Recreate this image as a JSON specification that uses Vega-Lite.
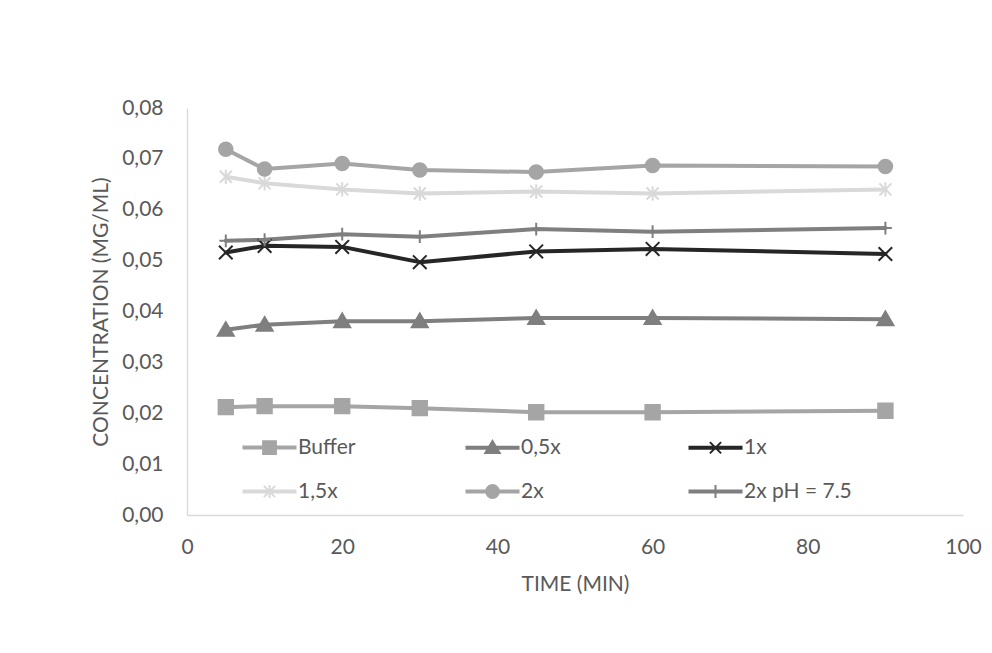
{
  "$schema": "https://vega.github.io/schema/vega-lite/v6.json",
  "width": 776,
  "height": 407,
  "autosize": {"type": "none"},
  "padding": {"left": 187, "top": 108, "right": 29, "bottom": 138},
  "background": "white",
  "config": {
    "view": {"stroke": null},
    "font": "Lato",
    "axis": {
      "domainColor": "#d9d9d9",
      "domainWidth": 1.3,
      "ticks": false,
      "grid": false,
      "labelColor": "#595959",
      "labelFont": "Lato",
      "labelFontSize": 21,
      "titleColor": "#595959",
      "titleFont": "Lato",
      "titleFontSize": 21,
      "titleFontWeight": "normal"
    },
    "legend": {
      "labelColor": "#595959",
      "labelFont": "Lato",
      "labelFontSize": 21,
      "orient": "none",
      "direction": "horizontal",
      "columns": 3,
      "gridAlign": "all",
      "columnPadding": 56,
      "rowPadding": 22,
      "symbolSize": 256,
      "symbolStrokeWidth": 2,
      "labelOffset": 18,
      "padding": 0,
      "title": null,
      "legendX": 72,
      "legendY": 329
    }
  },
  "data": {
    "values": [
      {"series": "Buffer", "time": 5, "conc": 0.0212},
      {"series": "Buffer", "time": 10, "conc": 0.0214},
      {"series": "Buffer", "time": 20, "conc": 0.0214},
      {"series": "Buffer", "time": 30, "conc": 0.0210},
      {"series": "Buffer", "time": 45, "conc": 0.0202},
      {"series": "Buffer", "time": 60, "conc": 0.0202},
      {"series": "Buffer", "time": 90, "conc": 0.0205},
      {"series": "0,5x", "time": 5, "conc": 0.0364},
      {"series": "0,5x", "time": 10, "conc": 0.0374},
      {"series": "0,5x", "time": 20, "conc": 0.0381},
      {"series": "0,5x", "time": 30, "conc": 0.0381},
      {"series": "0,5x", "time": 45, "conc": 0.0387},
      {"series": "0,5x", "time": 60, "conc": 0.0387},
      {"series": "0,5x", "time": 90, "conc": 0.0385},
      {"series": "1x", "time": 5, "conc": 0.0516},
      {"series": "1x", "time": 10, "conc": 0.0529},
      {"series": "1x", "time": 20, "conc": 0.0527},
      {"series": "1x", "time": 30, "conc": 0.0497},
      {"series": "1x", "time": 45, "conc": 0.0518},
      {"series": "1x", "time": 60, "conc": 0.0523},
      {"series": "1x", "time": 90, "conc": 0.0513},
      {"series": "1,5x", "time": 5, "conc": 0.0665},
      {"series": "1,5x", "time": 10, "conc": 0.0652},
      {"series": "1,5x", "time": 20, "conc": 0.0640},
      {"series": "1,5x", "time": 30, "conc": 0.0632},
      {"series": "1,5x", "time": 45, "conc": 0.0636},
      {"series": "1,5x", "time": 60, "conc": 0.0632},
      {"series": "1,5x", "time": 90, "conc": 0.0640},
      {"series": "2x", "time": 5, "conc": 0.0719},
      {"series": "2x", "time": 10, "conc": 0.0680},
      {"series": "2x", "time": 20, "conc": 0.0691},
      {"series": "2x", "time": 30, "conc": 0.0678},
      {"series": "2x", "time": 45, "conc": 0.0674},
      {"series": "2x", "time": 60, "conc": 0.0687},
      {"series": "2x", "time": 90, "conc": 0.0685},
      {"series": "2x pH = 7.5", "time": 5, "conc": 0.0539},
      {"series": "2x pH = 7.5", "time": 10, "conc": 0.0541},
      {"series": "2x pH = 7.5", "time": 20, "conc": 0.0552},
      {"series": "2x pH = 7.5", "time": 30, "conc": 0.0547},
      {"series": "2x pH = 7.5", "time": 45, "conc": 0.0562},
      {"series": "2x pH = 7.5", "time": 60, "conc": 0.0557},
      {"series": "2x pH = 7.5", "time": 90, "conc": 0.0564}
    ]
  },
  "encoding": {
    "x": {
      "field": "time",
      "type": "quantitative",
      "scale": {"domain": [0, 100], "nice": false},
      "axis": {
        "title": "TIME (MIN)",
        "values": [0, 20, 40, 60, 80, 100],
        "labelPadding": 21,
        "titlePadding": 16,
        "labelFlush": false
      }
    },
    "y": {
      "field": "conc",
      "type": "quantitative",
      "scale": {"domain": [0, 0.08], "nice": false},
      "axis": {
        "title": "CONCENTRATION (MG/ML)",
        "values": [0, 0.01, 0.02, 0.03, 0.04, 0.05, 0.06, 0.07, 0.08],
        "labelExpr": "replace(format(datum.value, '.2f'), '.', ',')",
        "labelPadding": 24,
        "titlePadding": 10,
        "labelFlush": false
      }
    }
  },
  "layer": [
    {
      "mark": {"type": "line", "strokeWidth": 4, "strokeCap": "round", "strokeJoin": "round"},
      "encoding": {
        "stroke": {
          "field": "series",
          "type": "nominal",
          "sort": null,
          "scale": {
            "range": ["#a5a5a5", "#7f7f7f", "#262626", "#d9d9d9", "#a5a5a5", "#7f7f7f"]
          },
          "legend": null
        }
      }
    },
    {
      "mark": {"type": "point", "filled": false, "opacity": 1, "strokeWidth": 2, "size": 256},
      "encoding": {
        "color": {
          "field": "series",
          "type": "nominal",
          "scale": {
            "domain": ["Buffer", "0,5x", "1x", "1,5x", "2x", "2x pH = 7.5"],
            "range": ["#a5a5a5", "#7f7f7f", "#262626", "#d9d9d9", "#a5a5a5", "#7f7f7f"]
          },
          "legend": {
            "symbolType": {"expr": "datum.value === 'Buffer' ? 'M-3.25,-0.125H3.25V0.125H-3.25ZM-0.8,-0.8H0.8V0.8H-0.8Z' : datum.value === '0,5x' ? 'M-3.25,-0.125H3.25V0.125H-3.25ZM0,-0.85L0.9,0.65H-0.9Z' : datum.value === '1x' ? 'M-3.25,-0.125H3.25V0.125H-3.25ZM-0.7,-0.7L0.7,0.7M-0.7,0.7L0.7,-0.7' : datum.value === '1,5x' ? 'M-3.25,-0.125H3.25V0.125H-3.25ZM0,-0.8V0.8M-0.7,-0.7L0.7,0.7M-0.7,0.7L0.7,-0.7' : datum.value === '2x' ? 'M-3.25,-0.125H3.25V0.125H-3.25ZM-0.8,0A0.8,0.8,0,1,1,0.8,0A0.8,0.8,0,1,1,-0.8,0Z' : 'M-3.25,-0.125H3.25V0.125H-3.25ZM0,-0.8V0.8'"},
            "symbolFillColor": {"expr": "scale('color', datum.value)"},
            "symbolStrokeColor": {"expr": "scale('color', datum.value)"},
            "symbolOpacity": 1
          }
        },
        "fill": {
          "field": "series",
          "type": "nominal",
          "sort": null,
          "scale": {
            "range": ["#a5a5a5", "#7f7f7f", "transparent", "transparent", "#a5a5a5", "transparent"]
          },
          "legend": null
        },
        "shape": {
          "field": "series",
          "type": "nominal",
          "sort": null,
          "scale": {
            "range": [
              "M-0.9,-0.9H0.9V0.9H-0.9Z",
              "M0,-0.95L1,0.75L-1,0.75Z",
              "M-0.85,-0.85L0.85,0.85M-0.85,0.85L0.85,-0.85",
              "M0,-0.9V0.9M-0.75,-0.75L0.75,0.75M-0.75,0.75L0.75,-0.75",
              "M-0.85,0A0.85,0.85,0,1,0,0.85,0A0.85,0.85,0,1,0,-0.85,0Z",
              "M-0.8,0H0.8M0,-0.8V0.8"
            ]
          },
          "legend": null
        }
      }
    }
  ]
}
